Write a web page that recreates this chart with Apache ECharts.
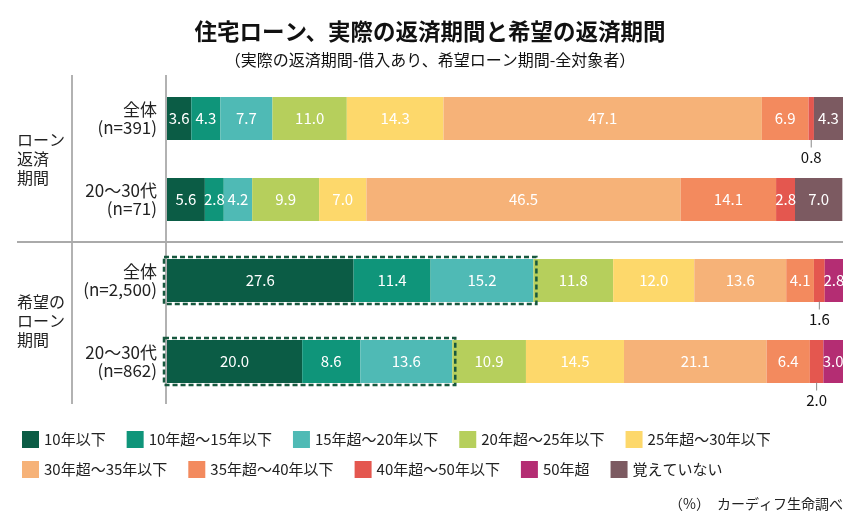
<!DOCTYPE html>
<html>
<head>
<meta charset="utf-8">
<script src="https://cdn.jsdelivr.net/npm/echarts@6/dist/echarts.min.js"></script>
<style>
html,body{margin:0;padding:0;background:#fff;}
#main{width:860px;height:530px;}
</style>
</head>
<body>
<div id="main"></div>
<script>
// rows (top to bottom)
var categories = ['全体\n(n=391)', '20～30代\n(n=71)', '全体\n(n=2,500)', '20～30代\n(n=862)'];
var seriesNames = ['10年以下', '10年超～15年以下', '15年超～20年以下', '20年超～25年以下', '25年超～30年以下',
                   '30年超～35年以下', '35年超～40年以下', '40年超～50年以下', '50年超', '覚えていない'];
var colors = ['#0b5c45', '#0f957a', '#4fbab5', '#b6cf5c', '#fdd86b', '#f6b278', '#f38a5e', '#e4574f', '#b42d73', '#7c5a61'];

var v10 = [3.6, 5.6, 27.6, 20.0];
var v15 = [4.3, 2.8, 11.4, 8.6];
var v20 = [7.7, 4.2, 15.2, 13.6];
var v25 = [11.0, 9.9, 11.8, 10.9];
var v30 = [14.3, 7.0, 12.0, 14.5];
var v35 = [47.1, 46.5, 13.6, 21.1];
var v40 = [6.9, 14.1, 4.1, 6.4];
var v50 = [0.8, 2.8, 1.6, 2.0];
var vOver50 = [null, null, 2.8, 3.0];
var vUnknown = [4.3, 7.0, null, null];
var allValues = [v10, v15, v20, v25, v30, v35, v40, v50, vOver50, vUnknown];

// rows whose first three segments are boxed
var boxedRows = [2, 3];
var smallLimit = 2.5;

var font = "'Noto Sans CJK JP', 'Noto Sans', sans-serif";

var dom = document.getElementById('main');
var myChart = echarts.init(dom);

var series = [];
for (var i = 0; i < seriesNames.length; i++) {
    series.push({
        name: seriesNames[i],
        type: 'bar',
        stack: 'total',
        barWidth: 43,
        itemStyle: {color: colors[i]},
        label: {
            show: true,
            color: '#fff',
            fontSize: 15,
            fontFamily: font,
            formatter: function (p) {
                if (p.value == null || p.value < smallLimit) return '';
                return p.value.toFixed(1);
            }
        },
        data: allValues[i]
    });
}

// small segments get an outside label with a leader line
var smallData = [];
for (var r = 0; r < categories.length; r++) {
    var cum = 0;
    for (var k = 0; k < allValues.length; k++) {
        var v = allValues[k][r];
        if (v == null) continue;
        if (v < smallLimit) smallData.push([cum + v / 2, r, v]);
        cum += v;
    }
}
series.push({
    type: 'custom',
    silent: true,
    z: 5,
    renderItem: function (params, api) {
        var p = api.coord([api.value(0), api.value(1)]);
        return {
            type: 'group',
            children: [{
                type: 'line',
                shape: {x1: p[0], y1: p[1] + 21, x2: p[0], y2: p[1] + 29},
                style: {stroke: '#888', lineWidth: 1}
            }, {
                type: 'text',
                style: {
                    x: p[0], y: p[1] + 39, text: api.value(2).toFixed(1),
                    fill: '#111', fontSize: 15, fontFamily: font,
                    align: 'center', verticalAlign: 'middle'
                }
            }]
        };
    },
    data: smallData
});

// dashed box round the first three segments
var boxData = [];
for (var b = 0; b < boxedRows.length; b++) {
    var row = boxedRows[b];
    boxData.push([0, v10[row] + v15[row] + v20[row], row]);
}
series.push({
    type: 'custom',
    silent: true,
    z: 6,
    renderItem: function (params, api) {
        var p0 = api.coord([api.value(0), api.value(2)]);
        var p1 = api.coord([api.value(1), api.value(2)]);
        return {
            type: 'rect',
            shape: {x: p0[0] - 3, y: p0[1] - 23.5, width: p1[0] - p0[0] + 6, height: 47},
            style: {fill: 'none', stroke: '#17583f', lineWidth: 2.5, lineDash: [5, 3]}
        };
    },
    data: boxData
});

var option = {
    backgroundColor: '#fff',
    animation: false,
    title: [{
        text: '住宅ローン、実際の返済期間と希望の返済期間',
        left: 'center', top: 15,
        textStyle: {fontSize: 22.5, fontWeight: 'bold', color: '#111', fontFamily: font}
    }, {
        text: '（実際の返済期間-借入あり、希望ローン期間-全対象者）',
        left: 'center', top: 47,
        textStyle: {fontSize: 16, fontWeight: 'normal', color: '#111', fontFamily: font}
    }],
    legend: [{
        data: seriesNames.slice(0, 5),
        left: 17, top: 426,
        itemWidth: 17, itemHeight: 17, itemGap: 21,
        icon: 'rect',
        selectedMode: false,
        textStyle: {fontSize: 15, color: '#222', fontFamily: font}
    }, {
        data: seriesNames.slice(5),
        left: 17, top: 456,
        itemWidth: 17, itemHeight: 17, itemGap: 21,
        icon: 'rect',
        selectedMode: false,
        textStyle: {fontSize: 15, color: '#222', fontFamily: font}
    }],
    grid: {left: 167, right: 17, top: 78, bottom: 128},
    xAxis: {type: 'value', min: 0, max: 100, show: false},
    yAxis: {
        type: 'category',
        inverse: true,
        data: categories,
        axisTick: {show: false},
        axisLine: {show: false},
        axisLabel: {
            margin: 10,
            fontSize: 17,
            lineHeight: 18,
            color: '#222',
            fontFamily: font,
            align: 'right'
        }
    },
    graphic: [
        {type: 'line', shape: {x1: 72, y1: 75, x2: 72, y2: 404}, style: {stroke: '#999', lineWidth: 1.5}},
        {type: 'line', shape: {x1: 166, y1: 75, x2: 166, y2: 404}, style: {stroke: '#999', lineWidth: 1.5}},
        {type: 'line', shape: {x1: 17, y1: 242, x2: 843, y2: 242}, style: {stroke: '#aaa', lineWidth: 2}},
        {type: 'text', left: 17, top: 130,
            style: {text: 'ローン\n返済\n期間', lineHeight: 19, fill: '#222', font: '16px ' + font}},
        {type: 'text', left: 17, top: 292,
            style: {text: '希望の\nローン\n期間', lineHeight: 19, fill: '#222', font: '16px ' + font}},
        {type: 'text', right: 17, top: 497,
            style: {text: '（%）　カーディフ生命調べ', fill: '#222', font: '14px ' + font}}
    ],
    series: series
};
myChart.setOption(option, true);
</script>
</body>
</html>
